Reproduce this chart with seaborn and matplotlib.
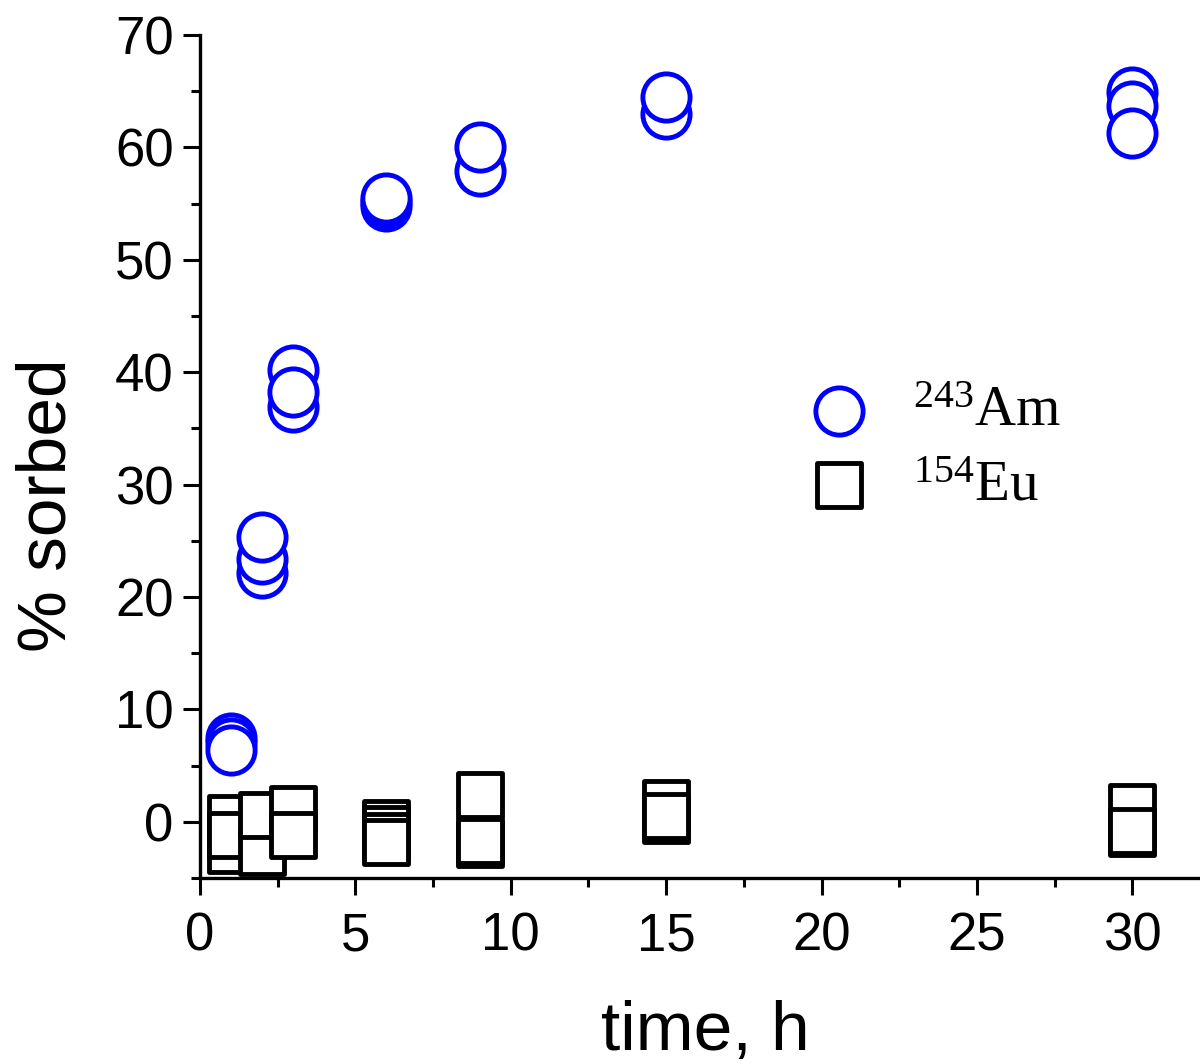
import matplotlib
matplotlib.use("Agg")
import matplotlib.pyplot as plt
import seaborn as sns
import pandas as pd
from matplotlib.ticker import MultipleLocator

# ---- data (order = drawing order) ----
am_time = [1, 1, 1, 2, 2, 2, 3, 3, 3, 6, 6, 6, 9, 9, 15, 15, 30, 30, 30]
am_sorbed = [7.5, 7.0, 6.4, 22.1, 23.4, 25.3, 40.2, 36.9, 38.2,
             54.8, 55.1, 55.5, 57.9, 60.0, 63.0, 64.5, 64.9, 63.7, 61.3]

eu_time = [1, 1, 1, 2, 2, 3, 3, 6, 6, 6, 6, 9, 9, 9, 15, 15, 15, 30, 30, 30]
eu_sorbed = [0.36, -2.5, -1.16, -2.67, 0.62, 1.16, -1.16,
             -0.09, -0.62, -1.25, -1.78, 2.4, -2.0, -1.75,
             1.7, 0.2, 0.5, 1.33, -1.0, -0.8]

am_label = r"$\mathrm{^{243}}$Am"
eu_label = r"$\mathrm{^{154}}$Eu"
x_ticks = [0, 5, 10, 15, 20, 25, 30]
y_ticks = [0, 10, 20, 30, 40, 50, 60, 70]

sns.set_theme(style="ticks")
plt.rcParams["font.family"] = ["Liberation Sans", "DejaVu Sans"]
plt.rcParams["mathtext.fontset"] = "custom"
plt.rcParams["mathtext.rm"] = "Liberation Serif"
plt.rcParams["text.color"] = "black"
plt.rcParams["axes.labelcolor"] = "black"

W, H = 1200, 1064
fig = plt.figure(figsize=(W / 100, H / 100), dpi=100)
ax = fig.add_axes([200 / W, (H - 878) / H, 1010 / W, (878 - 35) / H])

df_am = pd.DataFrame({"time": am_time, "sorbed": am_sorbed})
df_eu = pd.DataFrame({"time": eu_time, "sorbed": eu_sorbed})

lw = 3.5
sns.scatterplot(data=df_eu, x="time", y="sorbed", ax=ax, marker="s", s=31 ** 2,
                color="white", edgecolor="black", linewidth=lw, label=eu_label,
                zorder=3)
sns.scatterplot(data=df_am, x="time", y="sorbed", ax=ax, marker="o", s=34 ** 2,
                color="white", edgecolor="#0000ff", linewidth=lw, label=am_label,
                zorder=3)
for coll in ax.collections:
    coll.set_joinstyle("round")
    coll.set_clip_on(False)

ax.set_xlim(0, 32.5)
ax.set_ylim(-5, 70)
ax.set_xticks(x_ticks)
ax.set_yticks(y_ticks)
ax.xaxis.set_minor_locator(MultipleLocator(2.5))
ax.yaxis.set_minor_locator(MultipleLocator(5))
ax.tick_params(axis="both", which="major", direction="out", length=12, width=2.2,
               labelsize=38, color="black", labelcolor="black")
ax.tick_params(axis="both", which="minor", direction="out", length=6.5, width=2.2,
               color="black")
ax.tick_params(axis="x", which="major", pad=12)
ax.tick_params(axis="y", which="major", pad=7)
for side in ["top", "right"]:
    ax.spines[side].set_visible(False)
for side in ["left", "bottom"]:
    ax.spines[side].set_linewidth(2.4)
    ax.spines[side].set_color("black")
ax.set_xlabel("")
ax.set_ylabel("")

fig.text(705 / W, (H - 1050) / H, "time, h", fontsize=50, ha="center",
         va="baseline", color="black")
fig.text(48 / W, (H - 505) / H, "% sorbed", fontsize=50, ha="center", va="center",
         rotation=90, color="black")

handles, labels = ax.get_legend_handles_labels()
order = [labels.index(am_label), labels.index(eu_label)]
leg = ax.legend([handles[i] for i in order], [labels[i] for i in order],
                loc="center left", bbox_to_anchor=(808 / W, (H - 449) / H),
                bbox_transform=fig.transFigure, frameon=False,
                prop={"family": "Liberation Serif", "size": 41},
                handlelength=1.1, handletextpad=0.75, labelspacing=0.4,
                borderpad=0, borderaxespad=0)
for t in leg.get_texts():
    t.set_color("black")

fig.savefig("out.png", dpi=100)
